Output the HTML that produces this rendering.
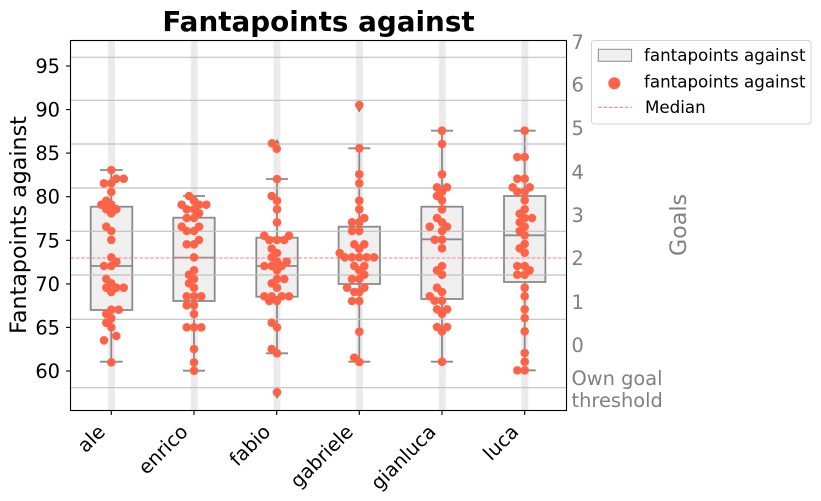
<!DOCTYPE html>
<html><head><meta charset="utf-8"><style>
html,body{margin:0;padding:0;background:#fff;}
svg{display:block;font-family:"DejaVu Sans","Liberation Sans",sans-serif;}
</style></head><body>
<svg width="821" height="501" viewBox="0 0 821 501" xmlns="http://www.w3.org/2000/svg">
<rect width="821" height="501" fill="#fff"/>
<!-- bands -->
<g fill="#ebebeb">
<rect x="108" y="40.5" width="7" height="370"/>
<rect x="190.7" y="40.5" width="7" height="370"/>
<rect x="273.4" y="40.5" width="7" height="370"/>
<rect x="356" y="40.5" width="7" height="370"/>
<rect x="438.7" y="40.5" width="7" height="370"/>
<rect x="521.3" y="40.5" width="7" height="370"/>
</g>
<!-- boxes -->
<g stroke="#8a8a8a" stroke-width="1.8" fill="#f0eff0">
<line x1="111.3" y1="170" x2="111.3" y2="361.7"/><line x1="100" y1="170" x2="122.7" y2="170"/><line x1="100" y1="361.7" x2="122.7" y2="361.7"/>
<rect x="90.7" y="206.7" width="41.6" height="103.3"/><line x1="90.7" y1="266" x2="132.3" y2="266"/>
<line x1="194" y1="196" x2="194" y2="370.7"/><line x1="183" y1="196" x2="205" y2="196"/><line x1="183" y1="370.7" x2="205" y2="370.7"/>
<rect x="173.3" y="217.7" width="41.4" height="83.3"/><line x1="173.3" y1="257.7" x2="214.7" y2="257.7"/>
<line x1="277" y1="179" x2="277" y2="353.3"/><line x1="266" y1="179" x2="288" y2="179"/><line x1="266" y1="353.3" x2="288" y2="353.3"/>
<rect x="256.3" y="237.7" width="41.4" height="59"/><line x1="256.3" y1="266" x2="297.7" y2="266"/>
<line x1="359.3" y1="148.3" x2="359.3" y2="361.7"/><line x1="348.3" y1="148.3" x2="370.3" y2="148.3"/><line x1="348.3" y1="361.7" x2="370.3" y2="361.7"/>
<rect x="338.6" y="226.7" width="41.4" height="57.3"/><line x1="338.6" y1="257.7" x2="380" y2="257.7"/>
<line x1="442" y1="130.7" x2="442" y2="361.7"/><line x1="431" y1="130.7" x2="453" y2="130.7"/><line x1="431" y1="361.7" x2="453" y2="361.7"/>
<rect x="421.3" y="206.7" width="41.4" height="92.3"/><line x1="421.3" y1="239.3" x2="462.7" y2="239.3"/>
<line x1="524.7" y1="130.7" x2="524.7" y2="370.3"/><line x1="513.7" y1="130.7" x2="535.7" y2="130.7"/><line x1="513.7" y1="370.3" x2="535.7" y2="370.3"/>
<rect x="504" y="196" width="41.4" height="86"/><line x1="504" y1="235.3" x2="545.4" y2="235.3"/>
</g>
<!-- outlier diamonds -->
<g fill="#7a7a7a">
<polygon points="277,139 280,144 277,149 274,144"/>
<polygon points="277,144 280,149 277,154 274,149"/>
<polygon points="277,389 280,394 277,399 274,394"/>
<polygon points="359.3,102.5 362.3,107.5 359.3,112.5 356.3,107.5"/>
</g>
<!-- gridlines -->
<g stroke="#c0c0c0" stroke-width="1.2">
<line x1="70.5" y1="57.3" x2="566.5" y2="57.3"/>
<line x1="70.5" y1="100.3" x2="566.5" y2="100.3"/>
<line x1="70.5" y1="144" x2="566.5" y2="144"/>
<line x1="70.5" y1="188" x2="566.5" y2="188"/>
<line x1="70.5" y1="231.3" x2="566.5" y2="231.3"/>
<line x1="70.5" y1="275" x2="566.5" y2="275"/>
<line x1="70.5" y1="319.3" x2="566.5" y2="319.3"/>
<line x1="70.5" y1="387.7" x2="566.5" y2="387.7"/>
</g>
<!-- median line -->
<line x1="70.5" y1="258" x2="566.5" y2="258" stroke="#ff7f7f" stroke-width="1.1" stroke-dasharray="3.7,1.6"/>
<!-- points -->
<g fill="#ff6347">
<!-- ale -->
<circle cx="111.3" cy="170" r="4.3"/><circle cx="104" cy="183.3" r="4.3"/><circle cx="111.3" cy="183.3" r="4.3"/><circle cx="116.3" cy="178.7" r="4.3"/><circle cx="123.7" cy="178.7" r="4.3"/><circle cx="111.3" cy="192" r="4.3"/><circle cx="106.3" cy="200.7" r="4.3"/><circle cx="101.3" cy="204.7" r="4.3"/><circle cx="111.3" cy="204.7" r="4.3"/><circle cx="106.3" cy="209.3" r="4.3"/><circle cx="116.3" cy="209.3" r="4.3"/><circle cx="111.3" cy="213.3" r="4.3"/><circle cx="106.3" cy="226.7" r="4.3"/><circle cx="111.3" cy="231" r="4.3"/><circle cx="111.3" cy="240" r="4.3"/><circle cx="111.3" cy="257.3" r="4.3"/><circle cx="116.3" cy="261.7" r="4.3"/><circle cx="104" cy="266" r="4.3"/><circle cx="111.3" cy="266" r="4.3"/><circle cx="106.3" cy="279" r="4.3"/><circle cx="111.3" cy="283.3" r="4.3"/><circle cx="106.3" cy="287.7" r="4.3"/><circle cx="116.3" cy="287.7" r="4.3"/><circle cx="123.7" cy="287.7" r="4.3"/><circle cx="111.3" cy="292" r="4.3"/><circle cx="118.7" cy="309.7" r="4.3"/><circle cx="111.3" cy="309.7" r="4.3"/><circle cx="106.3" cy="314" r="4.3"/><circle cx="111.3" cy="318.3" r="4.3"/><circle cx="106.3" cy="322.7" r="4.3"/><circle cx="111.3" cy="327.3" r="4.3"/><circle cx="116.3" cy="336" r="4.3"/><circle cx="104" cy="340.3" r="4.3"/><circle cx="111.3" cy="362.3" r="4.3"/>
<!-- enrico -->
<circle cx="189" cy="196" r="4.3"/><circle cx="194" cy="200.7" r="4.3"/><circle cx="181.7" cy="204.7" r="4.3"/><circle cx="199" cy="204.7" r="4.3"/><circle cx="206.3" cy="204.7" r="4.3"/><circle cx="186.7" cy="209.3" r="4.3"/><circle cx="194" cy="209.3" r="4.3"/><circle cx="199" cy="213.3" r="4.3"/><circle cx="186.7" cy="218" r="4.3"/><circle cx="194" cy="218" r="4.3"/><circle cx="181.7" cy="226.7" r="4.3"/><circle cx="199" cy="226.7" r="4.3"/><circle cx="186.7" cy="231" r="4.3"/><circle cx="194" cy="231" r="4.3"/><circle cx="199" cy="240" r="4.3"/><circle cx="186.7" cy="244.3" r="4.3"/><circle cx="194" cy="244.3" r="4.3"/><circle cx="194" cy="257.3" r="4.3"/><circle cx="194" cy="270.3" r="4.3"/><circle cx="189" cy="274.7" r="4.3"/><circle cx="194" cy="279" r="4.3"/><circle cx="189" cy="283.3" r="4.3"/><circle cx="194" cy="287.7" r="4.3"/><circle cx="186.7" cy="296.3" r="4.3"/><circle cx="194" cy="296.3" r="4.3"/><circle cx="201.3" cy="296.3" r="4.3"/><circle cx="186.7" cy="305.3" r="4.3"/><circle cx="194" cy="305.3" r="4.3"/><circle cx="194" cy="314" r="4.3"/><circle cx="186.7" cy="327.3" r="4.3"/><circle cx="194" cy="327.3" r="4.3"/><circle cx="201.3" cy="327.3" r="4.3"/><circle cx="194" cy="349" r="4.3"/><circle cx="194" cy="362.3" r="4.3"/><circle cx="194" cy="370.7" r="4.3"/>
<!-- fabio -->
<circle cx="272" cy="143.3" r="4.3"/><circle cx="276.7" cy="148.7" r="4.3"/><circle cx="277" cy="179" r="4.3"/><circle cx="271.7" cy="196" r="4.3"/><circle cx="277" cy="200.7" r="4.3"/><circle cx="277" cy="209.3" r="4.3"/><circle cx="277" cy="222.3" r="4.3"/><circle cx="264.3" cy="235.7" r="4.3"/><circle cx="289" cy="235.7" r="4.3"/><circle cx="269.3" cy="240" r="4.3"/><circle cx="277" cy="240" r="4.3"/><circle cx="284.3" cy="240" r="4.3"/><circle cx="271.7" cy="248.7" r="4.3"/><circle cx="277" cy="253" r="4.3"/><circle cx="271.7" cy="257.3" r="4.3"/><circle cx="286.7" cy="261.7" r="4.3"/><circle cx="277" cy="261.7" r="4.3"/><circle cx="264.3" cy="266" r="4.3"/><circle cx="271.7" cy="266" r="4.3"/><circle cx="281.7" cy="266" r="4.3"/><circle cx="277" cy="270.3" r="4.3"/><circle cx="277" cy="279" r="4.3"/><circle cx="284.3" cy="279" r="4.3"/><circle cx="271.7" cy="283.3" r="4.3"/><circle cx="277" cy="287.7" r="4.3"/><circle cx="264.3" cy="296.3" r="4.3"/><circle cx="271.7" cy="296.3" r="4.3"/><circle cx="281.7" cy="296.3" r="4.3"/><circle cx="289" cy="296.3" r="4.3"/><circle cx="269.3" cy="301" r="4.3"/><circle cx="277" cy="301" r="4.3"/><circle cx="271.7" cy="322.7" r="4.3"/><circle cx="277" cy="327.3" r="4.3"/><circle cx="271.7" cy="349" r="4.3"/><circle cx="277" cy="353.3" r="4.3"/><circle cx="277" cy="392.3" r="4.3"/>
<!-- gabriele -->
<circle cx="359.3" cy="105" r="4.3"/><circle cx="359.3" cy="148.3" r="4.3"/><circle cx="359.3" cy="174.3" r="4.3"/><circle cx="359.3" cy="183.3" r="4.3"/><circle cx="359.3" cy="200.7" r="4.3"/><circle cx="359.3" cy="209.3" r="4.3"/><circle cx="364.3" cy="218" r="4.3"/><circle cx="352" cy="222.3" r="4.3"/><circle cx="359.3" cy="222.3" r="4.3"/><circle cx="352" cy="231" r="4.3"/><circle cx="359.3" cy="231" r="4.3"/><circle cx="354.3" cy="244.3" r="4.3"/><circle cx="364.3" cy="244.3" r="4.3"/><circle cx="359.3" cy="248.7" r="4.3"/><circle cx="339.7" cy="253" r="4.3"/><circle cx="344.7" cy="257.3" r="4.3"/><circle cx="352" cy="257.3" r="4.3"/><circle cx="359.3" cy="257.3" r="4.3"/><circle cx="366.7" cy="257.3" r="4.3"/><circle cx="374" cy="257.3" r="4.3"/><circle cx="354.3" cy="266" r="4.3"/><circle cx="364.3" cy="266" r="4.3"/><circle cx="359.3" cy="270.3" r="4.3"/><circle cx="364.3" cy="274.7" r="4.3"/><circle cx="352" cy="279" r="4.3"/><circle cx="359.3" cy="279" r="4.3"/><circle cx="347" cy="287.7" r="4.3"/><circle cx="364.3" cy="287.7" r="4.3"/><circle cx="354.3" cy="292" r="4.3"/><circle cx="359.3" cy="292" r="4.3"/><circle cx="352" cy="301" r="4.3"/><circle cx="359.3" cy="301" r="4.3"/><circle cx="359.3" cy="331.7" r="4.3"/><circle cx="354.3" cy="357.7" r="4.3"/><circle cx="359.3" cy="362" r="4.3"/>
<!-- gianluca -->
<circle cx="442" cy="130.7" r="4.3"/><circle cx="442" cy="144" r="4.3"/><circle cx="442" cy="174.3" r="4.3"/><circle cx="437" cy="187.3" r="4.3"/><circle cx="447" cy="187.3" r="4.3"/><circle cx="442" cy="191.7" r="4.3"/><circle cx="437" cy="196" r="4.3"/><circle cx="442" cy="200.3" r="4.3"/><circle cx="442" cy="209.3" r="4.3"/><circle cx="437" cy="218" r="4.3"/><circle cx="442" cy="222.3" r="4.3"/><circle cx="429.7" cy="226.7" r="4.3"/><circle cx="447" cy="226.7" r="4.3"/><circle cx="442" cy="231" r="4.3"/><circle cx="434.7" cy="239.7" r="4.3"/><circle cx="442" cy="239.7" r="4.3"/><circle cx="442" cy="248.3" r="4.3"/><circle cx="442" cy="266" r="4.3"/><circle cx="437" cy="270.3" r="4.3"/><circle cx="442" cy="274.7" r="4.3"/><circle cx="437" cy="287.7" r="4.3"/><circle cx="442" cy="292" r="4.3"/><circle cx="429.7" cy="296.3" r="4.3"/><circle cx="434.7" cy="300.7" r="4.3"/><circle cx="442" cy="300.7" r="4.3"/><circle cx="437" cy="309.3" r="4.3"/><circle cx="447" cy="309.3" r="4.3"/><circle cx="442" cy="313.7" r="4.3"/><circle cx="437" cy="327" r="4.3"/><circle cx="447" cy="327" r="4.3"/><circle cx="442" cy="331.3" r="4.3"/><circle cx="442" cy="361.7" r="4.3"/>
<!-- luca -->
<circle cx="524.7" cy="130.7" r="4.3"/><circle cx="517.3" cy="157" r="4.3"/><circle cx="524.7" cy="157" r="4.3"/><circle cx="517.3" cy="178.7" r="4.3"/><circle cx="524.7" cy="178.7" r="4.3"/><circle cx="512.7" cy="187.3" r="4.3"/><circle cx="529.7" cy="187.3" r="4.3"/><circle cx="517.3" cy="191.7" r="4.3"/><circle cx="524.7" cy="191.7" r="4.3"/><circle cx="524.7" cy="200.3" r="4.3"/><circle cx="524.7" cy="209.3" r="4.3"/><circle cx="519.7" cy="213.7" r="4.3"/><circle cx="524.7" cy="218" r="4.3"/><circle cx="532" cy="218" r="4.3"/><circle cx="519.7" cy="222.3" r="4.3"/><circle cx="524.7" cy="226.7" r="4.3"/><circle cx="519.7" cy="231" r="4.3"/><circle cx="524.7" cy="235.3" r="4.3"/><circle cx="524.7" cy="244" r="4.3"/><circle cx="519.7" cy="248.3" r="4.3"/><circle cx="524.7" cy="252.7" r="4.3"/><circle cx="517.3" cy="266" r="4.3"/><circle cx="524.7" cy="266" r="4.3"/><circle cx="529.7" cy="270.3" r="4.3"/><circle cx="517.3" cy="274.7" r="4.3"/><circle cx="524.7" cy="274.7" r="4.3"/><circle cx="524.7" cy="287.7" r="4.3"/><circle cx="524.7" cy="296.3" r="4.3"/><circle cx="524.7" cy="309.3" r="4.3"/><circle cx="524.7" cy="318" r="4.3"/><circle cx="524.7" cy="331.3" r="4.3"/><circle cx="524.7" cy="353" r="4.3"/><circle cx="524.7" cy="361.7" r="4.3"/><circle cx="517.3" cy="370.3" r="4.3"/><circle cx="524.7" cy="370.3" r="4.3"/>
</g>
<!-- axes frame -->
<rect x="70.5" y="40.5" width="496" height="370" fill="none" stroke="#000" stroke-width="1.1"/>
<!-- ticks -->
<g stroke="#000" stroke-width="1.1">
<line x1="66" y1="66" x2="70.5" y2="66"/><line x1="66" y1="109.6" x2="70.5" y2="109.6"/><line x1="66" y1="153.1" x2="70.5" y2="153.1"/><line x1="66" y1="196.7" x2="70.5" y2="196.7"/><line x1="66" y1="240.3" x2="70.5" y2="240.3"/><line x1="66" y1="283.9" x2="70.5" y2="283.9"/><line x1="66" y1="327.4" x2="70.5" y2="327.4"/><line x1="66" y1="371" x2="70.5" y2="371"/>
<line x1="111.3" y1="410.5" x2="111.3" y2="415"/><line x1="194" y1="410.5" x2="194" y2="415"/><line x1="276.7" y1="410.5" x2="276.7" y2="415"/><line x1="359.3" y1="410.5" x2="359.3" y2="415"/><line x1="442" y1="410.5" x2="442" y2="415"/><line x1="524.7" y1="410.5" x2="524.7" y2="415"/>
</g>
<g font-size="19.4" fill="#000" text-anchor="end">
<text x="60" y="73">95</text><text x="60" y="116.6">90</text><text x="60" y="160.1">85</text><text x="60" y="203.7">80</text><text x="60" y="247.3">75</text><text x="60" y="290.9">70</text><text x="60" y="334.4">65</text><text x="60" y="378">60</text>
</g>
<g font-size="19.4" fill="#000" text-anchor="end">
<text transform="translate(106.3,433) rotate(-45)">ale</text>
<text transform="translate(189,433) rotate(-45)">enrico</text>
<text transform="translate(271.7,433) rotate(-45)">fabio</text>
<text transform="translate(354.3,433) rotate(-45)">gabriele</text>
<text transform="translate(437,433) rotate(-45)">gianluca</text>
<text transform="translate(519.7,433) rotate(-45)">luca</text>
</g>
<!-- right labels -->
<g font-size="19.4" fill="#808080">
<text x="571.5" y="48.8">7</text><text x="571.5" y="91.4">6</text><text x="571.5" y="135.1">5</text><text x="571.5" y="178.8">4</text><text x="571.5" y="222.1">3</text><text x="571.5" y="265.1">2</text><text x="571.5" y="308.8">1</text><text x="571.5" y="352.1">0</text>
<text x="571.5" y="385">Own goal</text><text x="571.5" y="407">threshold</text>
</g>
<text transform="translate(686,225) rotate(-90)" font-size="22.2" fill="#808080" text-anchor="middle">Goals</text>
<text transform="translate(26,225) rotate(-90)" font-size="22.2" fill="#000" text-anchor="middle">Fantapoints against</text>
<text x="318.5" y="31" font-size="27.8" font-weight="bold" fill="#000" text-anchor="middle">Fantapoints against</text>
<!-- legend -->
<rect x="591.5" y="40.5" width="219.5" height="83.5" rx="3" fill="#fff" stroke="#d4d4d4" stroke-width="1"/>
<rect x="598.3" y="49.3" width="33.3" height="12" fill="#f0eff0" stroke="#8c8c8c" stroke-width="1"/>
<circle cx="614.3" cy="83.3" r="6" fill="#ff6347"/>
<line x1="598.3" y1="107.3" x2="631.7" y2="107.3" stroke="#ff7f7f" stroke-width="1.1" stroke-dasharray="3.7,1.6"/>
<g font-size="16.7" fill="#000">
<text x="644" y="61">fantapoints against</text>
<text x="644" y="87.3">fantapoints against</text>
<text x="645" y="113">Median</text>
</g>
</svg>
</body></html>
